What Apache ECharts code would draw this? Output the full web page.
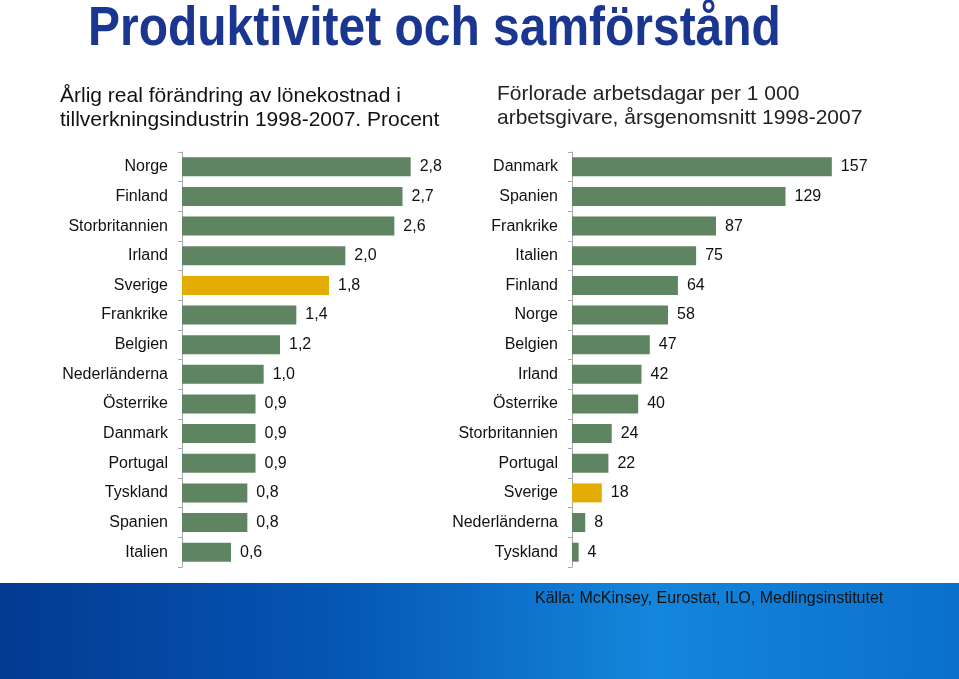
<!DOCTYPE html>
<html><head><meta charset="utf-8">
<script src="https://cdn.jsdelivr.net/npm/echarts@6/dist/echarts.min.js"></script>
<style>html,body{margin:0;padding:0;background:#fff}#c{width:959px;height:679px}</style>
</head><body><div id="c"></div>
<script>
var leftCategories = ['Norge','Finland','Storbritannien','Irland','Sverige','Frankrike','Belgien','Nederländerna','Österrike','Danmark','Portugal','Tyskland','Spanien','Italien'];
var leftValues = [2.8,2.7,2.6,2.0,1.8,1.4,1.2,1.0,0.9,0.9,0.9,0.8,0.8,0.6];
var rightCategories = ['Danmark','Spanien','Frankrike','Italien','Finland','Norge','Belgien','Irland','Österrike','Storbritannien','Portugal','Sverige','Nederländerna','Tyskland'];
var rightValues = [157,129,87,75,64,58,47,42,40,24,22,18,8,4];
var highlight = 'Sverige';

var GREEN = '#5f8461', GOLD = '#e3ad06';
var SANS = "'Liberation Sans', Arial, sans-serif";

function barData(cats, vals){
  return vals.map(function(v,i){
    return {value:v, itemStyle:{color: cats[i]===highlight ? GOLD : GREEN}};
  });
}
var chart = echarts.init(document.getElementById('c'));
var catAxis = function(idx, cats){
  return {type:'category', gridIndex:idx, data:cats, inverse:true,
    axisLine:{lineStyle:{color:'#aaaaaa'}},
    axisTick:{show:true, inside:false, length:4, lineStyle:{color:'#aaaaaa'}},
    axisLabel:{color:'#111', fontSize:16, fontFamily:SANS, margin:14}};
};
chart.setOption({
  animation:false,
  graphic:[
    {type:'rect', left:0, top:583, shape:{width:959, height:96},
      style:{fill:new echarts.graphic.LinearGradient(0,0,1,0,[
        {offset:0,color:'#033a92'},{offset:0.35,color:'#0556b4'},{offset:0.68,color:'#1486dc'},{offset:1,color:'#0a70cc'}])}},
    {type:'text', x:88, y:2, scaleX:0.872, style:{text:'Produktivitet och samförstånd',
      fill:'#1a3690', font:'bold 55px '+SANS}},
    {type:'text', left:60, top:84, style:{text:'Årlig real förändring av lönekostnad i\ntillverkningsindustrin 1998-2007. Procent',
      fill:'#111', font:'21px '+SANS, lineHeight:24}},
    {type:'text', left:497, top:82, style:{text:'Förlorade arbetsdagar per 1 000\narbetsgivare, årsgenomsnitt 1998-2007',
      fill:'#222', font:'21px '+SANS, lineHeight:24}},
    {type:'text', left:535, top:591, style:{text:'Källa: McKinsey, Eurostat, ILO, Medlingsinstitutet',
      fill:'#111', font:'16px '+SANS}}
  ],
  grid:[
    {left:182, top:152, width:245, height:415},
    {left:572, top:152, width:331, height:415}
  ],
  xAxis:[
    {type:'value', gridIndex:0, min:0, max:3, show:false},
    {type:'value', gridIndex:1, min:0, max:200, show:false}
  ],
  yAxis:[catAxis(0,leftCategories), catAxis(1,rightCategories)],
  series:[
    {type:'bar', xAxisIndex:0, yAxisIndex:0, barWidth:19, data:barData(leftCategories,leftValues),
      label:{show:true, position:'right', distance:9, color:'#111', fontSize:16, fontFamily:SANS,
        formatter:function(p){return p.value.toFixed(1).replace('.',',');}}},
    {type:'bar', xAxisIndex:1, yAxisIndex:1, barWidth:19, data:barData(rightCategories,rightValues),
      label:{show:true, position:'right', distance:9, color:'#111', fontSize:16, fontFamily:SANS}}
  ]
});
</script></body></html>
